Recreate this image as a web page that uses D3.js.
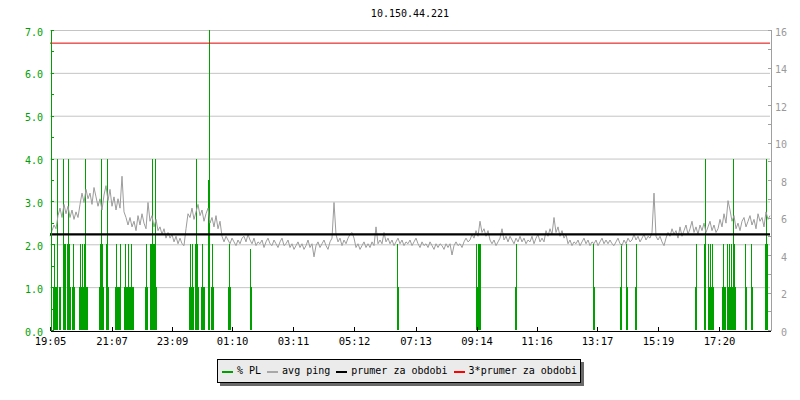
<!DOCTYPE html>
<html><head><meta charset="utf-8">
<script src="https://cdn.jsdelivr.net/npm/d3@7"></script>
<style>body{margin:0;background:#fff}svg{display:block}</style></head>
<body><svg id="c" width="800" height="400"></svg>
<script>
// ---------------- data ----------------
const title = "10.150.44.221";
const timeTickLabels = ["19:05","21:07","23:09","01:10","03:11","05:12","07:13","09:14","11:16","13:17","15:19","17:20"];
const timeTickMinutes = [0,123,244,364,486,608,731,853,973,1094,1216,1338];
const plTicksMajor = [0,1,2,3,4,5,6,7];
const pingTicksMajor = [0,2,4,6,8,10,12,14,16];
const legendLabels = ["% PL","avg ping","prumer za obdobi","3*prumer za obdobi"];

// packet loss samples: minute offset from 19:05, value in %
const plMinutes = [6,8,10,12,14,18,20,26,28,30,34,36,38,40,44,46,48,58,60,62,64,66,68,70,72,74,
  98,100,102,104,106,112,114,116,130,132,134,136,138,140,148,150,152,154,156,158,160,162,164,166,
  190,192,194,200,202,204,206,208,210,212,278,280,282,284,286,290,292,294,296,302,304,306,308,
  316,318,322,324,326,356,358,360,400,402,694,696,852,854,856,858,860,930,932,1086,1088,1140,1142,
  1152,1154,1170,1172,1290,1292,1308,1310,1316,1318,1320,1322,1324,1326,1344,1346,1348,1350,
  1354,1356,1358,1360,1362,1364,1366,1368,1370,1390,1392,1402,1404,1430,1432,1434];
const plValues = [1,2,1,1,4,1,1,4,2,2,2,4,2,1,1,2,1,1,2,1,2,1,2,4,1,1,
  1,2,4,2,1,2,4,1,1,2,1,1,1,2,1,2,1,1,2,1,1,2,1,1,
  1,2,1,2,2,4,2,2,4,1,1,2,1,2,1,2,4,2,1,1,2,1,1,
  3.5,7,1,2,1,1,2,1,1.9,1,2,1,2,1,2,2,2,1,2,2,1,1,2,
  2,1,1,2,1,2,2,4,2,1,2,1,2,1,1,2,1,1,
  2,1,2,1,2,1,4,2,1,2,1,2,1,2,4,2];

// average ping (ms), one sample every 4 minutes from 19:05
const pingStepMinutes = 4;
const pingValues = [
 5.0,5.3,5.6,5.4,6.1,6.5,6.0,6.7,6.2,6.6,6.0,6.4,5.9,6.3,6.0,6.7,7.3,6.8,7.5,7.0,
 7.3,6.7,7.6,7.1,6.6,7.0,6.4,7.2,7.7,6.9,7.5,6.6,7.1,6.4,7.0,6.5,8.2,6.3,6.0,5.6,
 6.0,5.5,5.8,5.3,6.1,5.6,6.2,5.7,5.4,6.8,5.8,6.1,5.5,5.9,5.3,5.5,5.1,5.4,4.9,5.2,
 4.9,5.1,4.7,5.0,4.6,4.9,4.6,4.5,5.4,6.2,6.0,6.5,5.9,6.3,6.7,6.1,6.4,5.8,6.2,6.5,
 5.7,6.0,5.5,6.1,5.4,5.8,5.0,4.7,5.0,4.8,4.6,4.9,4.7,4.5,4.8,4.6,4.9,5.0,4.7,5.1,
 4.8,4.6,4.9,4.5,4.7,4.6,4.8,4.4,4.7,4.9,4.6,4.5,4.8,4.6,4.4,4.7,4.9,4.5,4.6,4.8,
 4.4,4.6,4.3,4.5,4.7,4.4,4.6,4.3,4.5,4.8,4.4,4.6,3.9,4.5,4.7,4.4,4.6,4.8,4.5,4.3,
 4.7,4.9,6.8,5.1,4.7,4.9,4.5,4.8,4.6,4.9,5.1,5.2,4.9,4.4,4.6,4.3,4.5,4.7,4.4,4.6,
 4.4,4.7,4.5,5.5,4.6,4.8,4.6,5.2,4.7,4.9,4.6,4.8,4.5,4.7,4.9,4.6,4.8,4.5,4.7,4.6,
 4.8,4.5,4.7,4.9,4.6,4.4,4.7,4.5,4.6,4.4,4.7,4.5,4.3,4.6,4.4,4.6,4.5,4.3,4.6,4.4,
 4.6,4.0,4.5,4.7,4.5,4.6,4.4,4.7,4.9,4.7,4.8,5.1,4.9,5.3,5.0,5.8,5.2,5.4,5.0,5.3,
 4.8,4.6,4.8,4.5,4.7,4.9,5.4,4.8,5.0,4.7,5.0,4.8,4.6,4.9,4.7,5.0,4.7,4.9,4.6,4.8,
 4.7,5.0,4.6,4.9,5.1,4.7,4.9,4.7,5.3,5.0,5.4,5.1,6.0,5.2,5.5,5.0,5.3,4.9,5.1,4.6,
 4.8,4.5,4.7,4.6,4.8,4.5,4.7,4.9,4.6,4.8,4.5,4.7,4.6,4.8,4.5,4.7,4.9,4.6,4.8,4.6,
 4.8,4.6,4.5,4.7,4.9,4.6,4.5,4.8,4.6,4.9,4.7,4.8,5.1,4.8,5.0,4.7,4.9,5.1,4.8,5.0,
 4.9,5.2,7.3,5.0,4.8,5.0,4.7,4.5,4.9,5.2,5.0,5.4,5.1,5.3,4.9,5.5,5.0,5.3,5.6,5.1,
 5.4,5.8,5.2,5.5,5.1,5.6,5.3,5.7,5.2,5.5,5.8,5.3,5.6,5.2,5.4,5.9,5.5,6.2,5.7,6.9,
 6.4,5.8,6.1,5.4,5.7,5.3,5.8,6.0,5.5,5.8,6.1,5.6,5.9,5.4,6.2,5.8,6.0,5.5,6.3,5.9,
 6.1];
const pingMean = 5.1;

// ---------------- layout ----------------
const svg = d3.select("#c");
const L = 50, R = 770, T = 30, B = 330;
const FONT = "'DejaVu Sans Mono', monospace";
const GREEN = "#00a000", GRAY = "#9c9c9c", GRID = "#c4c4c4";

const x = d3.scaleLinear().domain([0, 1440]).range([L, R]);
const yL = d3.scaleLinear().domain([0, 7]).range([B, T]);
const yR = d3.scaleLinear().domain([0, 16]).range([B, T]);

// title
svg.append("text").attr("x", (L + R) / 2).attr("y", 17).attr("text-anchor", "middle")
  .attr("font-family", FONT).attr("font-size", 10).attr("fill", "#000").text(title);

// grid
svg.append("g").selectAll("line").data(plTicksMajor.filter(d => d > 0)).join("line")
  .attr("x1", L).attr("x2", R).attr("y1", d => yL(d) + 0.5).attr("y2", d => yL(d) + 0.5)
  .attr("stroke", GRID).attr("stroke-width", 1);

// packet loss bars
svg.append("g").attr("shape-rendering", "crispEdges").selectAll("rect")
  .data(plMinutes.map((m, i) => ({ m, v: plValues[i] }))).join("rect")
  .attr("x", d => Math.round(x(d.m)))
  .attr("width", d => Math.max(1, Math.round(x(d.m + 2)) - Math.round(x(d.m))))
  .attr("y", d => Math.round(yL(d.v)))
  .attr("height", d => B - Math.round(yL(d.v)))
  .attr("fill", GREEN);

// ping line
const pingData = pingValues.map((v, i) => ({ t: i * pingStepMinutes, v }));
svg.append("path").datum(pingData)
  .attr("d", d3.line().x(d => x(d.t)).y(d => yR(d.v)))
  .attr("fill", "none").attr("stroke", GRAY).attr("stroke-width", 1);

// mean lines
svg.append("line").attr("x1", L).attr("x2", R).attr("y1", yR(pingMean)).attr("y2", yR(pingMean))
  .attr("stroke", "#000").attr("stroke-width", 2.4);
svg.append("line").attr("x1", L).attr("x2", R).attr("y1", yR(3 * pingMean)).attr("y2", yR(3 * pingMean))
  .attr("stroke", "#e00000").attr("stroke-width", 1);

// left axis (green)
const gL = svg.append("g").attr("transform", `translate(${L + 0.5},0)`).attr("shape-rendering", "crispEdges")
  .call(d3.axisRight(yL).tickValues(d3.range(0, 7.01, 0.5)).tickSize(3).tickFormat(""));
gL.selectAll("path,line").attr("stroke", GREEN);
const gLl = svg.append("g").attr("transform", `translate(${L},0)`)
  .call(d3.axisLeft(yL).tickValues(plTicksMajor).tickSize(0).tickPadding(7).tickFormat(d3.format(".1f")));
gLl.select(".domain").remove();
gLl.selectAll("text").attr("fill", GREEN).attr("font-family", FONT).attr("font-size", 10)
  .attr("dy", null).attr("y", 5);

// right axis (gray)
const gR = svg.append("g").attr("transform", `translate(${R + 0.5},0)`).attr("shape-rendering", "crispEdges")
  .call(d3.axisLeft(yR).tickValues(d3.range(0, 16.01, 1)).tickSize(3).tickFormat(""));
gR.selectAll("path,line").attr("stroke", "#a0a0a0");
const gRl = svg.append("g").attr("transform", `translate(${R},0)`)
  .call(d3.axisRight(yR).tickValues(pingTicksMajor).tickSize(0).tickFormat(d => d));
gRl.select(".domain").remove();
gRl.selectAll("text").attr("fill", "#999").attr("font-family", FONT).attr("font-size", 10)
  .attr("text-anchor", "end").attr("x", 17).attr("dy", null).attr("y", 5);

// bottom axis
const gB = svg.append("g").attr("transform", `translate(0,${B + 0.5})`).attr("shape-rendering", "crispEdges")
  .call(d3.axisTop(x).tickValues(timeTickMinutes).tickSize(4).tickFormat("").tickSizeOuter(0));
gB.selectAll("path,line").attr("stroke", "#000");
const gBl = svg.append("g").attr("transform", `translate(0,${B})`)
  .call(d3.axisBottom(x).tickValues(timeTickMinutes).tickSize(0)
    .tickFormat((d, i) => timeTickLabels[i]));
gBl.select(".domain").remove();
gBl.selectAll("text").attr("fill", "#000").attr("font-family", FONT).attr("font-size", 10.5)
  .attr("dy", null).attr("y", 15);

// legend
const lg = svg.append("g").attr("shape-rendering", "crispEdges");
lg.append("rect").attr("x", 220).attr("y", 362).attr("width", 364).attr("height", 24).attr("fill", "#6a6a6a");
lg.append("rect").attr("x", 217.5).attr("y", 359.5).attr("width", 363).attr("height", 23)
  .attr("fill", "#ebebeb").attr("stroke", "#000").attr("stroke-width", 1);
const legendColors = [GREEN, "#a8a8a8", "#000", "#ff0000"];
let lx = 222;
legendLabels.forEach((lab, i) => {
  lg.append("rect").attr("x", lx).attr("y", 371).attr("width", 11).attr("height", 2).attr("fill", legendColors[i]);
  const t = lg.append("text").attr("x", lx + 15).attr("y", 374).attr("font-family", FONT)
    .attr("font-size", 10).attr("fill", "#000").text(lab);
  lx += 15 + t.node().getComputedTextLength() + 6;
});
</script></body></html>
